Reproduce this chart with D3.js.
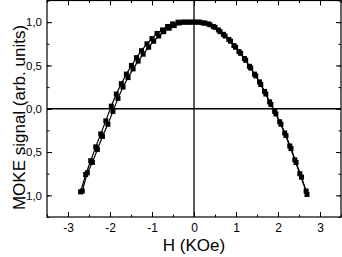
<!DOCTYPE html>
<html>
<head>
<meta charset="utf-8">
<script src="https://cdn.jsdelivr.net/npm/d3@7"></script>
<style>
  body { margin: 0; background: #fff; }
  text { font-family: "Liberation Sans", Arial, sans-serif; fill: #000; }
</style>
</head>
<body>
<svg id="chart"></svg>
<script>
// Width and height of svg
var width = 342;
var height = 257;

// sweep from -H to +H
var upX = [-2.70,-2.58,-2.46,-2.34,-2.22,-2.10,-1.97,-1.85,-1.73,-1.61,-1.49,-1.37,-1.25,-1.12,-1.00,-0.88,-0.75,-0.63,-0.51,-0.38,-0.26,-0.14,-0.02,0.10,0.22,0.34,0.46,0.58,0.70,0.83,0.95,1.07,1.20,1.32,1.44,1.56,1.68,1.80,1.92,2.04,2.16,2.28,2.40,2.52,2.67];
var upY = [-0.96,-0.76,-0.60,-0.44,-0.29,-0.14,0.03,0.17,0.29,0.40,0.50,0.59,0.67,0.75,0.81,0.87,0.91,0.95,0.98,1.00,1.00,1.00,1.00,1.00,0.99,0.98,0.95,0.91,0.86,0.80,0.73,0.66,0.58,0.49,0.40,0.31,0.20,0.08,-0.03,-0.15,-0.28,-0.43,-0.59,-0.75,-0.95];
// sweep back from +H to -H
var downX = [-2.66,-2.54,-2.42,-2.30,-2.18,-2.05,-1.93,-1.81,-1.69,-1.57,-1.45,-1.33,-1.21,-1.08,-0.96,-0.84,-0.72,-0.59,-0.47,-0.35,-0.23,-0.10,0.02,0.14,0.26,0.38,0.50,0.62,0.74,0.87,0.99,1.11,1.23,1.35,1.47,1.59,1.71,1.83,1.95,2.07,2.19,2.31,2.43,2.56,2.69];
var downY = [-0.95,-0.74,-0.62,-0.47,-0.32,-0.18,-0.03,0.12,0.25,0.36,0.46,0.55,0.63,0.71,0.78,0.84,0.89,0.93,0.96,0.99,1.00,1.00,1.00,1.00,0.99,0.97,0.94,0.89,0.84,0.78,0.71,0.64,0.56,0.47,0.38,0.28,0.17,0.05,-0.06,-0.18,-0.31,-0.46,-0.62,-0.79,-0.99];

var xTicks = [-3, -2, -1, 0, 1, 2, 3];
var yTicks = [-1.0, -0.5, 0.0, 0.5, 1.0];

var plotL = 47, plotR = 341, plotT = 0.5, plotB = 217;

var x = d3.scaleLinear().domain([-3.5, 3.5]).range([plotL, plotR]);
var y = d3.scaleLinear().domain([-1.25, 1.25]).range([plotB, plotT]);

var svg = d3.select("#chart")
  .attr("width", width)
  .attr("height", height);

var fmt = function(d) { return d3.format(".1f")(d).replace(".", ",").replace("−", "-"); };

// crosshair at origin
svg.append("line")
  .attr("x1", x(0)).attr("x2", x(0)).attr("y1", plotT).attr("y2", plotB)
  .attr("stroke", "#000").attr("stroke-width", 1.3);
svg.append("line")
  .attr("x1", plotL).attr("x2", plotR).attr("y1", y(0)).attr("y2", y(0))
  .attr("stroke", "#000").attr("stroke-width", 1.3);

// axes: inward ticks on all four sides
var xMinor = d3.range(-3.5, 3.51, 0.5);
var yMinor = d3.range(-1.25, 1.26, 0.25);

function addAxis(axis, tx, ty) {
  var g = svg.append("g").attr("transform", "translate(" + tx + "," + ty + ")").call(axis);
  g.select(".domain").remove();
  g.selectAll(".tick line").attr("stroke", "#000").attr("stroke-width", 1);
  return g;
}

addAxis(d3.axisBottom(x).tickValues(xMinor).tickSize(-2.5).tickFormat(""), 0, plotB);
addAxis(d3.axisTop(x).tickValues(xMinor).tickSize(-2.5).tickFormat(""), 0, plotT);
addAxis(d3.axisLeft(y).tickValues(yMinor).tickSize(-2.5).tickFormat(""), plotL, 0);
addAxis(d3.axisRight(y).tickValues(yMinor).tickSize(-2.5).tickFormat(""), plotR, 0);

var gx = addAxis(d3.axisBottom(x).tickValues(xTicks).tickSize(-5).tickPadding(6.5).tickFormat(function(d) { return String(d); }), 0, plotB);
gx.selectAll("text").attr("font-size", 12).attr("font-family", "Liberation Sans, Arial, sans-serif");
addAxis(d3.axisTop(x).tickValues(xTicks).tickSize(-5).tickFormat(""), 0, plotT);
var gy = addAxis(d3.axisLeft(y).tickValues(yTicks).tickSize(-5).tickPadding(5).tickFormat(fmt), plotL, 0);
gy.selectAll("text").attr("font-size", 11.5).attr("font-family", "Liberation Sans, Arial, sans-serif");
addAxis(d3.axisRight(y).tickValues(yTicks).tickSize(-5).tickFormat(""), plotR, 0);

// frame
svg.append("rect")
  .attr("x", plotL).attr("y", plotT)
  .attr("width", plotR - plotL).attr("height", plotB - plotT)
  .attr("fill", "none").attr("stroke", "#000").attr("stroke-width", 1.2);

// data
var line = d3.line().x(function(d) { return x(d[0]); }).y(function(d) { return y(d[1]); });
var series = [d3.zip(upX, upY), d3.zip(downX, downY)];

series.forEach(function(pts) {
  svg.append("path")
    .datum(pts)
    .attr("d", line)
    .attr("fill", "none")
    .attr("stroke", "#000")
    .attr("stroke-width", 1.2);
  svg.selectAll(null)
    .data(pts)
    .enter()
    .append("rect")
    .attr("x", function(d) { return x(d[0]) - 2.5; })
    .attr("y", function(d) { return y(d[1]) - 2.5; })
    .attr("width", 5)
    .attr("height", 5)
    .attr("fill", "#000");
});

// axis titles
svg.append("text")
  .attr("x", x(0))
  .attr("y", 251)
  .attr("text-anchor", "middle")
  .attr("font-size", 17)
  .text("H (KOe)");

svg.append("text")
  .attr("transform", "translate(24.5,117.5) rotate(-90)")
  .attr("text-anchor", "middle")
  .attr("font-size", 17)
  .text("MOKE signal (arb. units)");
</script>
</body>
</html>
